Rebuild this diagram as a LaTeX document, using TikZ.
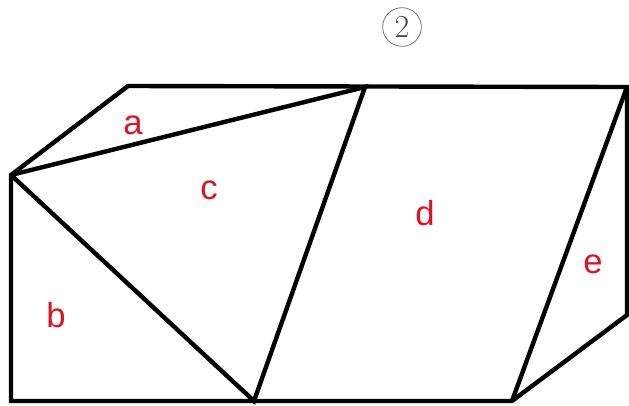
\documentclass[tikz,border=0pt]{standalone}
\usepackage{fontspec}
\setmainfont{Liberation Sans}
\newfontfamily\lmfont{Latin Modern Roman}
\usepackage{tikz}
\usetikzlibrary{positioning}
\definecolor{lblred}{RGB}{222,18,36}

\begin{document}
\begin{tikzpicture}[x=0.75pt, y=-0.75pt,
  edge/.style={line width=3.3pt},
  lbl/.style={text=lblred, font=\fontsize{26}{26}\selectfont, inner sep=0pt},
  num/.style={draw=black!55, line width=0.6pt, circle, minimum size=29pt, inner sep=0pt,
              text=black!70, font=\lmfont\fontsize{24}{24}\selectfont}]
  \useasboundingbox (0,0) rectangle (629,405);
  % vertices
  \coordinate (L) at (11,175);
  \coordinate (TL) at (128,86);
  \coordinate (P) at (365,87);
  \coordinate (TR) at (627,87);
  \coordinate (R) at (627,315);
  \coordinate (BR) at (512,401);
  \coordinate (BM) at (254,401);
  \coordinate (BL) at (11,401);
  % outline
  \draw[edge] (L) -- (TL) -- (TR) -- (R) -- (BR) -- (BL) -- cycle;
  % inner cuts
  \draw[edge] (L) -- (P) -- (BM) -- (L);
  \draw[edge] (TR) -- (BR);
  % labels
  \node[lbl] (a) at (133,125) {a};
  \node[lbl] (b) at (56,315) {b};
  \node[lbl] (c) at (209,190) {c};
  \node[lbl] (d) at (425,213) {d};
  \node[lbl] (e) at (593,264) {e};
  \node[num] (two) at (402,27) {2};
\end{tikzpicture}
\end{document}
